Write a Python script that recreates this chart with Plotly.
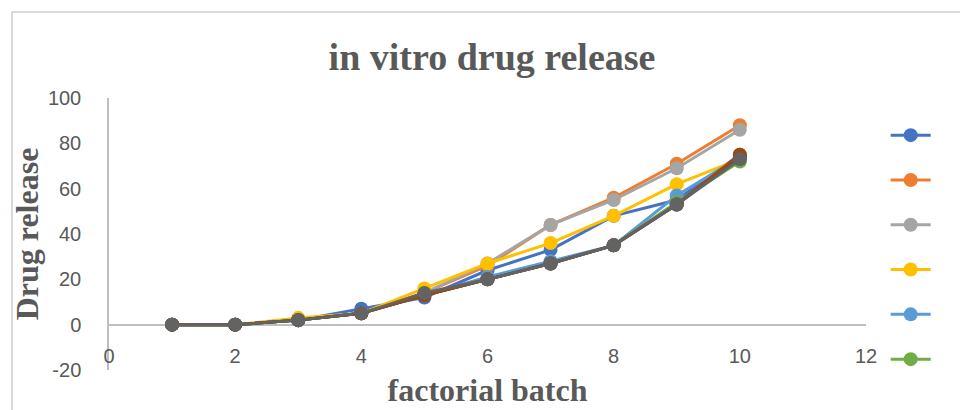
import plotly.graph_objects as go

batch = [1, 2, 3, 4, 5, 6, 7, 8, 9, 10]
s1 = [0, 0, 2, 7, 12, 24, 33, 48, 55, 75]
s2 = [0, 0, 2, 5, 14, 26, 44, 56, 71, 88]
s3 = [0, 0, 2, 5, 14, 27, 44, 55, 69, 86]
s4 = [0, 0, 3, 5, 16, 27, 36, 48, 62, 73]
s5 = [0, 0, 2, 5, 13, 21, 28, 35, 57, 74]
s6 = [0, 0, 2, 5, 13, 20, 27, 35, 54, 72]
s7 = [0, 0, 2, 5, 13, 20, 27, 35, 53, 74]
s8 = [0, 0, 2, 5, 13, 20, 27, 35, 53, 75]
s9 = [0, 0, 2, 5, 14, 20, 27, 35, 53, 73]

series = [s1, s2, s3, s4, s5, s6, s7, s8, s9]
colors = ["#4472C4", "#ED7D31", "#A5A5A5", "#FFC000", "#5B9BD5",
          "#70AD47", "#264478", "#9E480E", "#636363"]
in_legend = [True, True, True, True, True, True, False, False, False]

x_ticks = [0, 2, 4, 6, 8, 10, 12]
y_ticks = [-20, 0, 20, 40, 60, 80, 100]
y_labels = ["-20", "0", "20", "40", "60", "80", "100"]

fig = go.Figure()
for i, (vals, col, show) in enumerate(zip(series, colors, in_legend)):
    fig.add_trace(go.Scatter(
        x=batch, y=vals, mode="lines+markers", name=" ",
        line=dict(color=col, width=3),
        marker=dict(color=col, size=14, symbol="circle"),
        showlegend=show, legendgroup=f"g{i}",
    ))

tick_font = dict(family="Liberation Sans, Arial, sans-serif", size=20, color="#595959")
title_font = dict(family="Liberation Serif, Times New Roman, serif", size=32, color="#595959")

# paper area: x 109..866 px, y 98..400 px; plot bottom kept at 370 px via y domain
dom_bottom = 30 / 302

fig.update_layout(
    width=960, height=410,
    margin=dict(l=109, r=94, t=98, b=10, autoexpand=False),
    paper_bgcolor="white", plot_bgcolor="white",
    title=dict(text="<b>in vitro drug release</b>", x=0.5125, xanchor="center",
               y=1 - 57 / 410, yanchor="middle",
               font=dict(family="Liberation Serif, Times New Roman, serif", size=38, color="#595959")),
    xaxis=dict(range=[0, 12], tickvals=x_ticks, showgrid=False, zeroline=False,
               showline=False, ticks="", tickfont=tick_font, automargin=False,
               ticklabelposition="inside", ticklabeloverflow="allow",
               title=dict(text="<b>factorial batch</b>", font=title_font, standoff=12)),
    yaxis=dict(range=[-20, 100], domain=[dom_bottom, 1], tickvals=y_ticks, ticktext=y_labels,
               showgrid=False,
               zeroline=True, zerolinecolor="#BFBFBF", zerolinewidth=1.5,
               showline=True, linecolor="#BFBFBF", linewidth=1.5, automargin=False,
               ticks="", tickfont=tick_font, ticklabelstandoff=22,
               title=dict(text="<b>Drug release</b>", font=title_font, standoff=0)),
    legend=dict(x=1.026, xanchor="left", y=0.933, yanchor="top",
                traceorder="grouped", tracegroupgap=21,
                font=dict(size=16), bgcolor="rgba(0,0,0,0)", itemwidth=40),
    showlegend=True,
    shapes=[dict(type="rect", xref="paper", yref="paper",
                 x0=(12 - 109) / 757, x1=(975 - 109) / 757,
                 y0=(400 - 420) / 302, y1=(400 - 12) / 302,
                 line=dict(color="#D9D9D9", width=2), fillcolor="rgba(0,0,0,0)",
                 layer="below")],
)

fig.write_html("out.html")
